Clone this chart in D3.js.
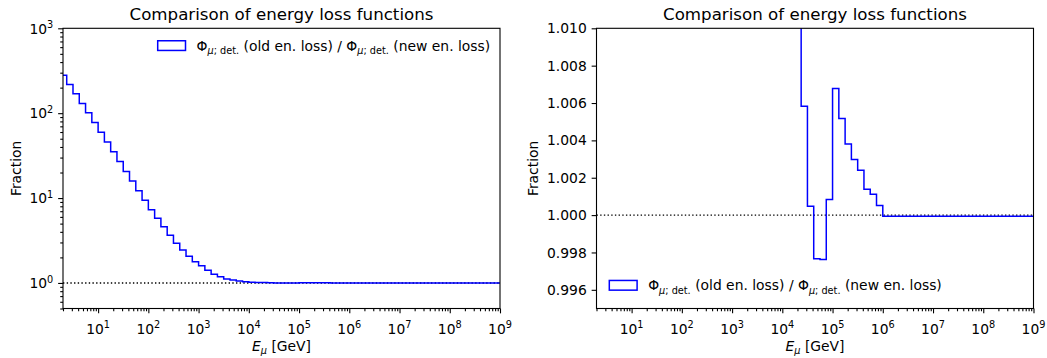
<!DOCTYPE html>
<html>
<head>
<meta charset="utf-8">
<script src="https://cdn.jsdelivr.net/npm/d3@7"></script>
<style>
  body { margin: 0; background: #ffffff; }
  text { font-family: "DejaVu Sans", sans-serif; fill: #000000; }
</style>
</head>
<body>
<svg id="fig" width="1047" height="358"></svg>
<script>
// Bin edges of the energy histogram, as log10(E / GeV)
const binEdgeExponents = [
  0.25, 0.375, 0.5, 0.625, 0.75, 0.875, 1.0, 1.125, 1.25, 1.375,
  1.5, 1.625, 1.75, 1.875, 2.0, 2.125, 2.25, 2.375, 2.5, 2.625,
  2.75, 2.875, 3.0, 3.125, 3.25, 3.375, 3.5, 3.625, 3.75, 3.875,
  4.0, 4.125, 4.25, 4.375, 4.5, 4.625, 4.75, 4.875, 5.0, 5.125,
  5.25, 5.375, 5.5, 5.625, 5.75, 5.875, 6.0, 6.125, 6.25, 6.375,
  6.5, 6.625, 6.75, 6.875, 7.0, 7.125, 7.25, 7.375, 7.5, 7.625,
  7.75, 7.875, 8.0, 8.125, 8.25, 8.375, 8.5, 8.625, 8.75, 8.875, 9.0
];

// Flux ratio old / new energy loss, one value per bin
const fluxRatio = [
  280, 218, 169, 130, 101, 77.7, 59.7, 45.9, 35.2, 27.0,
  20.6, 15.9, 12.2, 9.4, 7.3, 5.77, 4.59, 3.65, 2.94, 2.44,
  2.06, 1.78, 1.59, 1.41, 1.27, 1.18, 1.11, 1.08, 1.055, 1.035,
  1.022, 1.015, 1.0115, 1.00583, 1.00047, 0.99766, 0.99762, 1.00084, 1.00678, 1.00517,
  1.00381, 1.00297, 1.00240, 1.00138, 1.00111, 1.00052, 0.99994, 0.99994, 0.99994, 0.99994,
  0.99994, 0.99994, 0.99994, 0.99994, 0.99994, 0.99994, 0.99994, 0.99994, 0.99994, 0.99994,
  0.99994, 0.99994, 0.99994, 0.99994, 0.99994, 0.99994, 0.99994, 0.99994, 0.99994, 0.99994
];

const xDomain = [2, 1e9];
const xMajorExponents = [1, 2, 3, 4, 5, 6, 7, 8, 9];
const leftYDomain = [0.5, 1000];
const leftYMajorExponents = [0, 1, 2, 3];
const rightYDomain = [0.995, 1.010];
const rightYTicks = [0.996, 0.998, 1.000, 1.002, 1.004, 1.006, 1.008, 1.010];
const referenceLevel = 1;

const titleText = "Comparison of energy loss functions";
const yLabelText = "Fraction";

// Layout (pixels)
const plotTop = 28.3, plotBottom = 308.5;
const panels = [
  { left: 63, right: 500, yType: "log", legend: "upper right" },
  { left: 596.5, right: 1033.5, yType: "linear", legend: "lower left" }
];
const fontTick = 13.89, fontTitle = 16.67;
const majorLen = 4.86, minorLen = 2.78, tickPad = 4.86;
const lineColor = "#0000ff";
const histLineWidth = 1.5;

const svg = d3.select("#fig");

// step outline points for the histogram
const stepPoints = [];
fluxRatio.forEach((v, i) => {
  stepPoints.push([Math.pow(10, binEdgeExponents[i]), v]);
  stepPoints.push([Math.pow(10, binEdgeExponents[i + 1]), v]);
});

function addPowerLabel(textSel, exp) {
  textSel.append("tspan").text("10");
  textSel.append("tspan")
    .attr("dy", -5.6)
    .attr("font-size", fontTick * 0.7)
    .text(exp);
}

function addLegendLabel(textSel) {
  const sub = fontTick * 0.7;
  const shift = 3.6;
  const parts = [
    ["Φ", 0, false, false],
    ["μ", shift, true, true],
    ["; det.", 0, true, false],
    [" (old en. loss) / Φ", -shift, false, false],
    ["μ", shift, true, true],
    ["; det.", 0, true, false],
    [" (new en. loss)", -shift, false, false]
  ];
  parts.forEach(([t, dy, small, italic]) => {
    const ts = textSel.append("tspan").text(t);
    if (dy) ts.attr("dy", dy);
    if (small) ts.attr("font-size", sub);
    if (italic) ts.attr("font-style", "italic");
  });
}

panels.forEach((p, idx) => {
  const g = svg.append("g");
  const x = d3.scaleLog().domain(xDomain).range([p.left, p.right]);
  const y = p.yType === "log"
    ? d3.scaleLog().domain(leftYDomain).range([plotBottom, plotTop])
    : d3.scaleLinear().domain(rightYDomain).range([plotBottom, plotTop]);

  const clipId = "clip" + idx;
  svg.append("clipPath").attr("id", clipId)
    .append("rect")
    .attr("x", p.left).attr("y", plotTop)
    .attr("width", p.right - p.left).attr("height", plotBottom - plotTop);

  // reference level at 1
  g.append("line")
    .attr("x1", p.left).attr("x2", p.right)
    .attr("y1", y(referenceLevel)).attr("y2", y(referenceLevel))
    .attr("stroke", "#000").attr("stroke-width", 1.39)
    .attr("stroke-dasharray", "1.39,2.29");

  // histogram outline
  const line = d3.line().x(d => x(d[0])).y(d => y(d[1]));
  g.append("path")
    .attr("clip-path", `url(#${clipId})`)
    .attr("d", line(stepPoints))
    .attr("fill", "none")
    .attr("stroke", lineColor)
    .attr("stroke-width", histLineWidth)
    .attr("stroke-linejoin", "miter");

  // x axis ticks
  const xMajor = xMajorExponents.map(e => Math.pow(10, e));
  const xMinor = [];
  for (let e = 0; e < 9; e++) {
    for (let m = 2; m <= 9; m++) {
      const v = m * Math.pow(10, e);
      if (v >= xDomain[0] && v <= xDomain[1]) xMinor.push(v);
    }
  }
  const xAxisMinor = d3.axisBottom(x).tickValues(xMinor).tickSize(minorLen).tickSizeOuter(0).tickFormat("");
  const xAxisMajor = d3.axisBottom(x).tickValues(xMajor).tickSize(majorLen).tickSizeOuter(0).tickFormat("");
  [xAxisMinor, xAxisMajor].forEach(ax => {
    const a = g.append("g").attr("transform", `translate(0,${plotBottom})`).call(ax);
    a.select(".domain").remove();
    a.selectAll("line").attr("stroke", "#000").attr("stroke-width", 1.1);
  });
  xMajorExponents.forEach(e => {
    const t = g.append("text")
      .attr("x", x(Math.pow(10, e)))
      .attr("y", plotBottom + majorLen + tickPad + 15.6)
      .attr("text-anchor", "middle")
      .attr("font-size", fontTick);
    addPowerLabel(t, e);
  });

  // y axis ticks
  if (p.yType === "log") {
    const yMajor = leftYMajorExponents.map(e => Math.pow(10, e));
    const yMinor = [];
    for (let e = -1; e < 3; e++) {
      for (let m = 2; m <= 9; m++) {
        const v = m * Math.pow(10, e);
        if (v >= leftYDomain[0] && v <= leftYDomain[1]) yMinor.push(v);
      }
    }
    [d3.axisLeft(y).tickValues(yMinor).tickSize(minorLen),
     d3.axisLeft(y).tickValues(yMajor).tickSize(majorLen)].forEach(ax => {
      const a = g.append("g").attr("transform", `translate(${p.left},0)`)
        .call(ax.tickSizeOuter(0).tickFormat(""));
      a.select(".domain").remove();
      a.selectAll("line").attr("stroke", "#000").attr("stroke-width", 1.1);
    });
    leftYMajorExponents.forEach(e => {
      const t = g.append("text")
        .attr("x", p.left - majorLen - tickPad)
        .attr("y", y(Math.pow(10, e)) + 5.2)
        .attr("text-anchor", "end")
        .attr("font-size", fontTick);
      addPowerLabel(t, e);
    });
  } else {
    const a = g.append("g").attr("transform", `translate(${p.left},0)`)
      .call(d3.axisLeft(y).tickValues(rightYTicks).tickSize(majorLen).tickSizeOuter(0).tickFormat(""));
    a.select(".domain").remove();
    a.selectAll("line").attr("stroke", "#000").attr("stroke-width", 1.1);
    rightYTicks.forEach(v => {
      g.append("text")
        .attr("x", p.left - majorLen - tickPad)
        .attr("y", y(v) + 5.1)
        .attr("text-anchor", "end")
        .attr("font-size", fontTick)
        .text(d3.format(".3f")(v));
    });
  }

  // frame
  g.append("rect")
    .attr("x", p.left).attr("y", plotTop)
    .attr("width", p.right - p.left).attr("height", plotBottom - plotTop)
    .attr("fill", "none").attr("stroke", "#000").attr("stroke-width", 1.1);

  // title
  g.append("text")
    .attr("x", (p.left + p.right) / 2)
    .attr("y", plotTop - 8.8)
    .attr("text-anchor", "middle")
    .attr("font-size", fontTitle)
    .text(titleText);

  // x label
  const xl = g.append("text")
    .attr("x", (p.left + p.right) / 2)
    .attr("y", plotBottom + 42.5)
    .attr("text-anchor", "middle")
    .attr("font-size", fontTick);
  xl.append("tspan").attr("font-style", "italic").text("E");
  xl.append("tspan").attr("font-style", "italic").attr("font-size", fontTick * 0.7).attr("dy", 3).text("μ");
  xl.append("tspan").attr("dy", -3).text(" [GeV]");

  // y label
  const yLabelX = idx === 0 ? 21 : 538;
  g.append("text")
    .attr("transform", `translate(${yLabelX},${(plotTop + plotBottom) / 2}) rotate(-90)`)
    .attr("text-anchor", "middle")
    .attr("font-size", fontTick)
    .text(yLabelText);

  // legend
  const lg = g.append("g");
  let patchX, patchCY;
  if (p.legend === "upper right") {
    patchX = p.left + 94.7;
    patchCY = plotTop + 17.3;
  } else {
    patchX = p.left + 12.8;
    patchCY = plotBottom - 23.2;
  }
  lg.append("rect")
    .attr("x", patchX).attr("y", patchCY - 4.85)
    .attr("width", 27.8).attr("height", 9.7)
    .attr("fill", "none").attr("stroke", lineColor).attr("stroke-width", histLineWidth);
  const lt = lg.append("text")
    .attr("x", patchX + 27.8 + 11.1)
    .attr("y", patchCY + 5)
    .attr("font-size", fontTick);
  addLegendLabel(lt);
});
</script>
</body>
</html>
